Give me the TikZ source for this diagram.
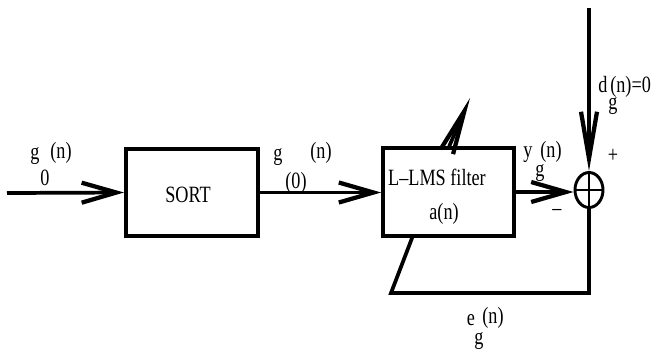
\documentclass[tikz,border=0pt]{standalone}
\usepackage{fontspec}
\setmainfont[FakeStretch=0.78]{Liberation Serif}
\usetikzlibrary{arrows.meta,shapes.geometric}
\tikzset{
  lbl/.style={inner sep=0pt, anchor=base, font=\fontsize{17.5}{20}\selectfont},
  blk/.style={draw, line width=3pt, inner sep=0pt, rectangle},
  wire/.style={line width=2.8pt},
  arr/.style={-{Straight Barb[length=26pt,width=15pt,line width=3.2pt]}},
  arrlong/.style={-{Straight Barb[length=35pt,width=12pt,line width=3.2pt]}},
  arrdiag/.style={-{Straight Barb[length=33pt,width=10pt,line width=3.2pt]}},
}
\begin{document}
\begin{tikzpicture}[x=0.75pt,y=-0.75pt]
\useasboundingbox (0,0) rectangle (659,351);
% blocks
\node[blk, minimum width=99pt, minimum height=65pt] (sort) at (192,192.5) {};
\node[blk, minimum width=98pt, minimum height=65.5pt] (filter) at (448.5,192) {};
\node[draw, ellipse, line width=2.2pt, inner sep=0pt, minimum width=21pt, minimum height=26.25pt] (sum) at (589,190) {};
% texts in blocks
\node[lbl] (sorttxt) at (188,202) {SORT};
\node[lbl] (ftxt) at (437,185) {L–LMS filter};
\node[lbl] (atxt) at (444,219) {a(n)};
% coordinates
\coordinate (in) at (7,193);
\coordinate (dtop) at (589,8);
\coordinate (c2) at (391,293);
\coordinate (adapt) at (470,98);
% connectors
\draw[wire, arr] (in) -- (sort.west);
\draw[wire, arr] (sort.east) -- (sort.east -| filter.west);
\draw[wire, arr] (filter.east) -- (filter.east -| sum.west);
\draw[wire, arrlong] (dtop) -- (sum.north);
\draw[line width=2.2pt] (sum.north) -- (sum.south);
\draw[line width=2.2pt] (sum.west) -- (sum.east);
\draw[wire] (sum.south) |- (c2) -- ([xshift=23.25pt]filter.south west);
\draw[wire, arrdiag] ([xshift=51pt]filter.north west) -- (adapt);
% labels
\node[lbl] (g0a) at (35,159) {g};
\node[lbl] (g0b) at (61,158) {(n)};
\node[lbl] (g0c) at (45,185) {0};
\node[lbl] (g1a) at (278,160) {g};
\node[lbl] (g1b) at (321,158) {(n)};
\node[lbl] (g1c) at (296,188) {(0)};
\node[lbl] (ya) at (528,157) {y};
\node[lbl] (yb) at (551,157) {(n)};
\node[lbl] (yc) at (540,176) {g};
\node[lbl, anchor=center] (minus) at (557,212) {–};
\node[lbl, anchor=center] (plus) at (613,156) {+};
\node[lbl] (da) at (603,92) {d};
\node[lbl, anchor=base west] (db) at (610,92) {(n)=0};
\node[lbl] (dc) at (613,109) {g};
\node[lbl] (ea) at (471,325) {e};
\node[lbl] (eb) at (493,323) {(n)};
\node[lbl] (ec) at (479,344) {g};
\end{tikzpicture}
\end{document}
